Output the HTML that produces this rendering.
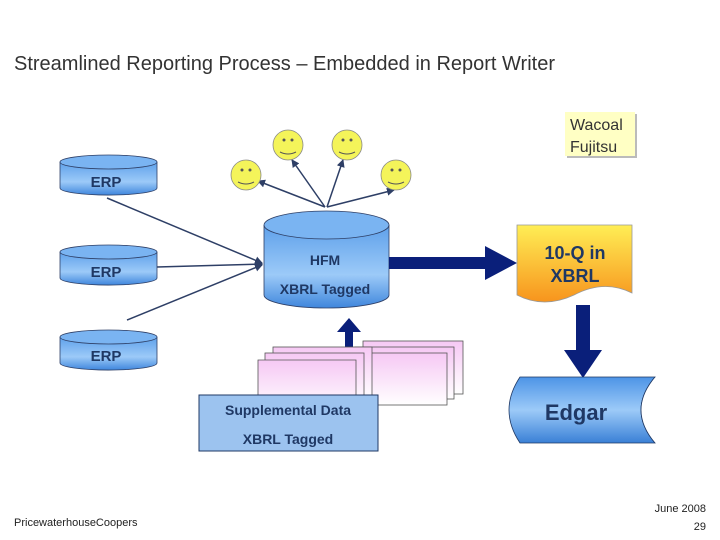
<!DOCTYPE html><html><head><style>body{margin:0;background:#fff}svg{display:block;font-family:"Liberation Sans",Arial,sans-serif}</style></head><body>
<svg width="720" height="540" viewBox="0 0 720 540">
<defs>
<linearGradient id="cyl" x1="0" y1="0" x2="0" y2="1"><stop offset="0" stop-color="#5ea0ea"/><stop offset="0.6" stop-color="#9ccaf8"/><stop offset="1" stop-color="#3f86dc"/></linearGradient>
<linearGradient id="doc" x1="0" y1="0" x2="0" y2="1"><stop offset="0" stop-color="#ffee55"/><stop offset="1" stop-color="#f7941d"/></linearGradient>
<linearGradient id="pink" x1="0" y1="0" x2="0" y2="1"><stop offset="0" stop-color="#f6c8f4"/><stop offset="1" stop-color="#fff"/></linearGradient>
<linearGradient id="edg" x1="0" y1="0" x2="0" y2="1"><stop offset="0" stop-color="#4d94e6"/><stop offset="0.5" stop-color="#9ccaf8"/><stop offset="1" stop-color="#3a80d6"/></linearGradient>
<marker id="ah" markerWidth="8" markerHeight="8" refX="7" refY="4" orient="auto" markerUnits="userSpaceOnUse"><path d="M0,0 L8,4 L0,8 z" fill="#2e3f66"/></marker>
</defs>
<text x="14" y="70" font-size="20" fill="#333">Streamlined Reporting Process – Embedded in Report Writer</text>
<rect x="567" y="114" width="70" height="44" fill="#bbb"/>
<rect x="565" y="112" width="70" height="44" fill="#ffffc4"/>
<text x="570" y="130" font-size="16" fill="#333">Wacoal</text>
<text x="570" y="152" font-size="16" fill="#333">Fujitsu</text>
<g stroke="#2e3f66" stroke-width="1.5" fill="none">
<line x1="107" y1="198" x2="262" y2="263" marker-end="url(#ah)"/>
<line x1="157" y1="267" x2="262" y2="264" marker-end="url(#ah)"/>
<line x1="127" y1="320" x2="262" y2="265" marker-end="url(#ah)"/>
<line x1="325" y1="207" x2="258" y2="181" marker-end="url(#ah)"/>
<line x1="325" y1="207" x2="292" y2="160" marker-end="url(#ah)"/>
<line x1="327" y1="207" x2="343" y2="160" marker-end="url(#ah)"/>
<line x1="327" y1="207" x2="394" y2="190" marker-end="url(#ah)"/>
</g>
<g stroke="#2e3f66" stroke-width="0.8">
<g><path d="M60,162 v26 a48,7 0 0 0 97,0 v-26" fill="url(#cyl)"/><ellipse cx="108.5" cy="162" rx="48.5" ry="7" fill="#7ab4f2"/></g>
<g><path d="M60,252 v26 a48,7 0 0 0 97,0 v-26" fill="url(#cyl)"/><ellipse cx="108.5" cy="252" rx="48.5" ry="7" fill="#7ab4f2"/></g>
<g><path d="M60,337 v26 a48,7 0 0 0 97,0 v-26" fill="url(#cyl)"/><ellipse cx="108.5" cy="337" rx="48.5" ry="7" fill="#7ab4f2"/></g>
<path d="M264,225 v70 a62.5,13 0 0 0 125,0 v-70" fill="url(#cyl)"/><ellipse cx="326.5" cy="225" rx="62.5" ry="14" fill="#7ab4f2"/>
</g>
<g fill="#1f3864" font-weight="bold" text-anchor="middle">
<text x="106" y="187" font-size="15" fill="#1f3864">ERP</text>
<text x="106" y="277" font-size="15">ERP</text>
<text x="106" y="361" font-size="15">ERP</text>
<text x="325" y="265" font-size="14">HFM</text>
<text x="325" y="294" font-size="14">XBRL Tagged</text>
</g>
<g fill="#f4f45a" stroke="#888" stroke-width="0.8">
<circle cx="246" cy="175" r="15"/><circle cx="288" cy="145" r="15"/><circle cx="347" cy="145" r="15"/><circle cx="396" cy="175" r="15"/>
</g>
<g stroke="#555" stroke-width="1" fill="none">
<path d="M238,182 q8,4 16,0"/><path d="M280,152 q8,4 16,0"/><path d="M339,152 q8,4 16,0"/><path d="M388,182 q8,4 16,0"/>
</g>
<g fill="#555"><circle cx="242" cy="170" r="1.5"/><circle cx="250" cy="170" r="1.5"/><circle cx="284" cy="140" r="1.5"/><circle cx="292" cy="140" r="1.5"/><circle cx="343" cy="140" r="1.5"/><circle cx="351" cy="140" r="1.5"/><circle cx="392" cy="170" r="1.5"/><circle cx="400" cy="170" r="1.5"/></g>
<path d="M389,257 h96 v-11 l32,17 l-32,17 v-11 h-96 z" fill="#0a1f7a"/>
<path d="M517,225 h115 v68 q-28,-14 -58,2 q-30,14 -57,0 z" fill="url(#doc)" stroke="#999" stroke-width="0.8"/>
<text x="575" y="259" font-size="18" font-weight="bold" fill="#1f3864" text-anchor="middle">10-Q in</text>
<text x="575" y="282" font-size="18" font-weight="bold" fill="#1f3864" text-anchor="middle">XBRL</text>
<path d="M576,305 h14 v45 h12 l-19,28 l-19,-28 h12 z" fill="#0a1f7a"/>
<path d="M345,362 v-30 h-8 l12,-14 l12,14 h-8 v30 z" fill="#0a1f7a"/>
<g stroke="#555" stroke-width="0.8" fill="url(#pink)">
<rect x="363" y="341" width="100" height="53"/>
<rect x="355" y="347" width="99" height="52"/>
<rect x="348" y="353" width="99" height="52"/>
<rect x="273" y="347" width="99" height="52"/>
<rect x="265" y="353" width="99" height="52"/>
<path d="M258,360 h98 v50 q-40,-10 -98,2 z"/>
</g>
<rect x="199" y="395" width="179" height="56" fill="#9cc3ef" stroke="#1f3864" stroke-width="1"/>
<text x="288" y="415" font-size="14" font-weight="bold" fill="#1f3864" text-anchor="middle">Supplemental Data</text>
<text x="288" y="444" font-size="14" font-weight="bold" fill="#1f3864" text-anchor="middle">XBRL Tagged</text>
<path d="M520,377 h135 q-28,33 0,66 h-135 q-22,-33 0,-66 z" fill="url(#edg)" stroke="#1f3864" stroke-width="0.8"/>
<path d="M655,377 q-28,33 0,66" fill="#fff" stroke="#1f3864" stroke-width="0.8"/>
<text x="576" y="420" font-size="22" font-weight="bold" fill="#1f3864" text-anchor="middle">Edgar</text>
<text x="14" y="526" font-size="11" fill="#222">PricewaterhouseCoopers</text>
<text x="706" y="512" font-size="11" fill="#222" text-anchor="end">June 2008</text>
<text x="706" y="530" font-size="11" fill="#222" text-anchor="end">29</text>
</svg>
</body></html>
